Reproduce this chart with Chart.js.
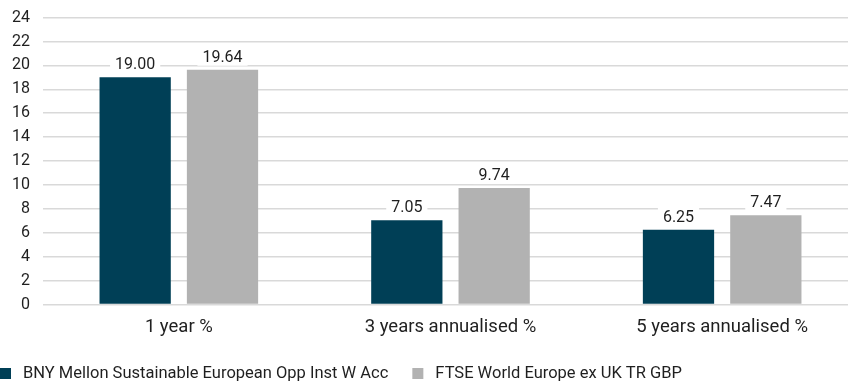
<!DOCTYPE html>
<html>
<head>
<meta charset="utf-8">
<script src="https://cdn.jsdelivr.net/npm/chart.js@4"></script>
<style>
  html, body { margin: 0; padding: 0; background: #fff; overflow: hidden; }
  #wrap { position: relative; width: 848px; height: 381px; overflow: hidden; }
  #chart { position: absolute; left: 0; top: -5px; }
</style>
</head>
<body>
<div id="wrap"><canvas id="chart" width="858" height="386"></canvas></div>
<script>
// values
const categories = ['1 year %', '3 years annualised %', '5 years annualised %'];
const fundName = 'BNY Mellon Sustainable European Opp Inst W Acc';
const indexName = 'FTSE World Europe ex UK TR GBP';
const fundValues = [19.00, 7.05, 6.25];
const indexValues = [19.64, 9.74, 7.47];

const FONT = 'Roboto, "Liberation Sans", sans-serif';
const TEXT = '#1f1f1f';

// value labels above bars, white box knocks out the gridlines
const valueLabels = {
  id: 'valueLabels',
  afterDatasetsDraw(chart) {
    const ctx = chart.ctx;
    ctx.save();
    ctx.font = '16px ' + FONT;
    ctx.textAlign = 'center';
    ctx.textBaseline = 'middle';
    chart.data.datasets.forEach((ds, i) => {
      chart.getDatasetMeta(i).data.forEach((bar, j) => {
        const txt = ds.data[j].toFixed(2);
        const w = ctx.measureText(txt).width + 10;
        const y = bar.y - 13;
        ctx.fillStyle = '#fff';
        ctx.fillRect(bar.x - w / 2, y - 9, w, 18);
        ctx.fillStyle = TEXT;
        ctx.fillText(txt, bar.x, y + 1);
      });
    });
    ctx.restore();
  }
};

// legend drawn along the bottom edge, starting at the left border
const bottomLegend = {
  id: 'bottomLegend',
  afterDraw(chart) {
    const ctx = chart.ctx;
    ctx.save();
    ctx.font = '16.5px ' + FONT;
    ctx.textBaseline = 'middle';
    let x = 0;
    const y = chart.height - 7;
    chart.data.datasets.forEach(ds => {
      ctx.fillStyle = ds.backgroundColor;
      ctx.fillRect(x, y - 6, 11, 11);
      ctx.fillStyle = TEXT;
      ctx.fillText(ds.label, x + 23, y);
      x += 23 + ctx.measureText(ds.label).width + 24;
    });
    ctx.restore();
  }
};

new Chart(document.getElementById('chart'), {
  type: 'bar',
  data: {
    labels: categories,
    datasets: [
      { label: fundName, data: fundValues, backgroundColor: '#003f56' },
      { label: indexName, data: indexValues, backgroundColor: '#b2b2b2' }
    ]
  },
  options: {
    responsive: false,
    animation: false,
    devicePixelRatio: 1,
    categoryPercentage: 0.643,
    barPercentage: 0.816,
    layout: { padding: 0 },
    plugins: {
      legend: { display: false },
      tooltip: { enabled: false }
    },
    scales: {
      x: {
        grid: { display: false, drawTicks: false },
        border: { display: false },
        ticks: { color: TEXT, font: { family: FONT, size: 18.5 }, padding: 12 },
        afterFit(s) { s.height = 76.5; }
      },
      y: {
        min: 0,
        max: 24,
        ticks: { stepSize: 2, color: TEXT, font: { family: FONT, size: 16 }, padding: 13 },
        grid: { color: '#d9d9d9', lineWidth: 1.5, drawTicks: false },
        border: { display: false },
        afterFit(s) { s.width = 43; }
      }
    }
  },
  plugins: [valueLabels, bottomLegend]
});
</script>
</body>
</html>
